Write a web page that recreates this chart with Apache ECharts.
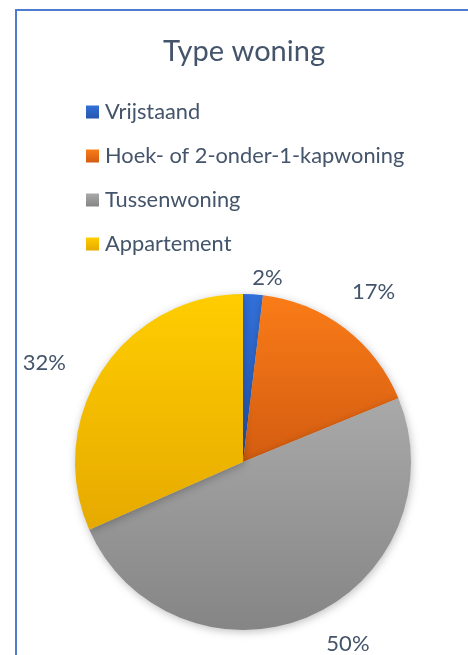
<!DOCTYPE html>
<html>
<head>
<meta charset="utf-8">
<script src="https://cdn.jsdelivr.net/npm/echarts@6/dist/echarts.min.js"></script>
<style>
  html, body { margin: 0; padding: 0; background: #fff; }
  #wrap { position: relative; width: 468px; height: 655px; overflow: hidden; }
  #chart { width: 468px; height: 655px; }
  /* the blue frame of the original chart area (cropped right & bottom) */
  #frame {
    position: absolute; left: 15px; top: 9px; width: 600px; height: 800px;
    border-top: 2px solid #4F7BD0; border-left: 2px solid #4F7BD0;
    pointer-events: none;
  }
</style>
</head>
<body>
<div id="wrap">
  <div id="chart"></div>
  <div id="frame"></div>
</div>
<script>
// data
var categories = ["Vrijstaand", "Hoek- of 2-onder-1-kapwoning", "Tussenwoning", "Appartement"];
var shares = [1.9, 16.9, 49.6, 31.6];

// top / bottom colours of each slice gradient
var topColors = ["#3170DA", "#FA7C18", "#A9A9A9", "#FFCD00"];
var bottomColors = ["#2656AE", "#D35C10", "#858585", "#E6AA00"];

// small per-label nudges so the % labels sit where Excel put them
var labelNudge = [[-7, 6], [-11, -19], [4, 7], [-13, 5]];

function grad(i) {
  return new echarts.graphic.LinearGradient(0, 0, 0, 1, [
    { offset: 0, color: topColors[i] },
    { offset: 1, color: bottomColors[i] }
  ]);
}

var textColor = "#44546A";
var fontFam = "Lato, sans-serif";

var chart = echarts.init(document.getElementById("chart"));
chart.setOption({
  animation: false,
  title: {
    text: "Type woning",
    left: 158,
    top: 32,
    textStyle: { color: textColor, fontSize: 29, fontWeight: "normal", fontFamily: fontFam }
  },
  legend: {
    orient: "vertical",
    left: 81,
    top: 95,
    icon: "rect",
    itemWidth: 13,
    itemHeight: 13,
    itemGap: 20,
    textStyle: { color: textColor, fontSize: 21.8, fontFamily: fontFam, lineHeight: 24, padding: [0, 0, 0, 1] },
    data: categories
  },
  series: [
    {
      type: "pie",
      center: [243, 462],
      radius: 168,
      startAngle: 90,
      clockwise: true,
      avoidLabelOverlap: false,
      label: {
        show: true,
        position: "outside",
        color: textColor,
        fontSize: 22,
        fontFamily: fontFam,
        formatter: function (p) { return Math.round(p.percent) + "%"; }
      },
      labelLine: { show: false, length: 22, length2: 0 },
      labelLayout: function (p) {
        var n = labelNudge[p.dataIndex];
        return { dx: n[0], dy: n[1] };
      },
      itemStyle: {
        borderWidth: 0,
        shadowBlur: 8,
        shadowColor: "rgba(0,0,0,0.25)",
        shadowOffsetX: 1,
        shadowOffsetY: 2
      },
      emphasis: { disabled: true },
      data: categories.map(function (c, i) {
        return { name: c, value: shares[i], itemStyle: { color: grad(i) } };
      })
    }
  ]
});
</script>
</body>
</html>
